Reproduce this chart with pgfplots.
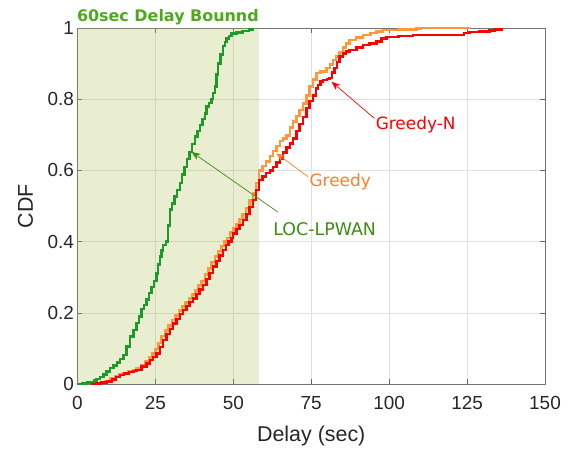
\documentclass[border=0pt]{standalone}
\usepackage{fontspec}
\setmainfont{Liberation Sans}
\newfontfamily\dejavu{DejaVu Sans}
\usepackage{pgfplots}
\pgfplotsset{compat=1.18}
\usetikzlibrary{arrows.meta}
\definecolor{cgreen}{RGB}{28,155,40}
\definecolor{corange}{RGB}{255,152,60}
\definecolor{cred}{RGB}{255,0,0}
\definecolor{tgreen}{RGB}{60,140,20}
\definecolor{ttitle}{RGB}{78,170,28}
\definecolor{torange}{RGB}{255,128,40}
\definecolor{shade}{RGB}{163,186,64}
\definecolor{tickc}{RGB}{38,38,38}
\begin{document}
\begin{tikzpicture}
\begin{axis}[
  scale only axis, width=467.5bp, height=356bp,
  xmin=0, xmax=150, ymin=0, ymax=1,
  xtick={0,25,...,150}, ytick={0,0.2,0.4,0.6,0.8,1},
  yticklabels={0,0.2,0.4,0.6,0.8,1},
  grid=major, major grid style={black!12, line width=0.6pt},
  tick align=inside, major tick length=5bp,
  axis line style={black!55, line width=0.7pt},
  tick style={black!60, line width=0.6pt},
  /pgf/number format/assume math mode=true,
  ticklabel style={font=\fontsize{19}{22}\selectfont, text=tickc},
  xticklabel style={yshift=-9bp},
  xlabel={Delay (sec)}, ylabel={CDF},
  label style={font=\fontsize{21.5}{25}\selectfont, text=tickc},
  xlabel style={at={(axis description cs:0.5,-0.146)}, anchor=center},
  ylabel style={at={(axis description cs:-0.111,0.5)}, anchor=center, rotate=0},
  clip mode=individual,
]
\coordinate (SW) at (rel axis cs:0,0);
\addplot[fill=shade, fill opacity=0.25, draw=none] coordinates {(0,0) (58.3,0) (58.3,1) (0,1)} -- cycle;

\addplot[const plot, color=cgreen, line width=2.5pt] coordinates {
(0,0)(1.5,0.002)(3,0.004)(4.4,0.006)(5.3,0.01)(6.1,0.014)(7.2,0.02)(8.3,0.026)(9.3,0.035)(10.4,0.045)(11.5,0.052)(12.6,0.06)(13.6,0.07)(14.7,0.082)(15.7,0.105)(16.8,0.133)(17.9,0.152)(19,0.172)(19.8,0.19)(20.6,0.21)(21.4,0.222)(22.2,0.237)(23,0.255)(23.8,0.273)(24.6,0.29)(25.4,0.31)(25.9,0.335)(26.4,0.358)(27,0.375)(27.5,0.39)(28.4,0.40)(29,0.445)(29.6,0.49)(30.4,0.507)(31.2,0.526)(32,0.545)(32.9,0.565)(33.6,0.588)(34.4,0.61)(35.2,0.632)(36,0.652)(36.8,0.674)(37.7,0.695)(38.5,0.711)(39.3,0.727)(40.1,0.745)(40.9,0.76)(41.4,0.78)(42.2,0.79)(43,0.80)(43.5,0.818)(44.1,0.835)(44.6,0.87)(45.1,0.90)(45.9,0.925)(46.7,0.95)(47.3,0.96)(47.8,0.97)(48.6,0.978)(49.4,0.985)(51,0.988)(53,0.992)(55,0.996)(56.3,1.0)
};

\addplot[const plot, color=corange, line width=2.5pt] coordinates {
(4.4,0)(6,0.002)(7.5,0.005)(9,0.009)(10.5,0.015)(12,0.021)(13.3,0.027)(14.8,0.031)(16.3,0.035)(17.8,0.04)(19,0.045)(20.4,0.054)(21.8,0.065)(23,0.075)(24,0.085)(25,0.098)(26,0.115)(27,0.135)(28.2,0.15)(29.2,0.165)(30.3,0.18)(31.4,0.193)(32.5,0.206)(33.5,0.218)(34.6,0.229)(35.7,0.24)(36.7,0.251)(37.8,0.263)(38.8,0.276)(39.8,0.29)(40.9,0.307)(42,0.325)(43,0.342)(44.1,0.358)(45.2,0.373)(46.2,0.388)(47.2,0.40)(48,0.41)(49,0.425)(50,0.438)(51,0.45)(52,0.463)(53,0.477)(54,0.495)(55.2,0.515)(56.3,0.535)(57.3,0.565)(58.3,0.60)(59.4,0.613)(60.5,0.625)(61.7,0.64)(62.8,0.655)(63.9,0.668)(65,0.682)(66,0.69)(67,0.698)(68.1,0.72)(69.2,0.737)(70.3,0.753)(71.3,0.77)(72.4,0.788)(73.5,0.81)(74.5,0.835)(75.6,0.855)(76.7,0.873)(78,0.878)(79.9,0.887)(81,0.898)(82,0.91)(83,0.92)(84.1,0.933)(85.2,0.945)(86.2,0.956)(87.3,0.966)(89.4,0.973)(91.6,0.98)(94,0.986)(96,0.99)(98,0.994)(103,0.996)(108.7,0.998)(110,1.0)(125.8,1.0)
};

\addplot[const plot, color=cred, line width=2.5pt] coordinates {
(4.4,0)(6,0.002)(7.5,0.004)(9.4,0.007)(11,0.013)(12.3,0.019)(13.6,0.025)(15,0.029)(16.5,0.033)(18,0.037)(19,0.04)(20.6,0.049)(22.2,0.058)(23.3,0.067)(24.3,0.076)(25.4,0.086)(26.4,0.104)(27.5,0.124)(28.6,0.14)(29.6,0.155)(30.7,0.17)(31.8,0.183)(32.9,0.196)(33.9,0.208)(35,0.219)(36,0.23)(37.1,0.24)(38.2,0.253)(39.2,0.265)(40.3,0.278)(41.4,0.295)(42.4,0.312)(43.5,0.33)(44.6,0.345)(45.6,0.361)(46.7,0.376)(47.6,0.39)(48.5,0.40)(49.4,0.41)(49.9,0.423)(51,0.435)(52,0.447)(53.1,0.46)(54.2,0.478)(55.2,0.497)(56.3,0.517)(57.3,0.545)(58.3,0.573)(59.4,0.583)(60.5,0.592)(61.7,0.60)(62.8,0.61)(63.9,0.622)(64.9,0.634)(66,0.65)(67.1,0.664)(68.1,0.676)(69.2,0.69)(70.3,0.71)(71.3,0.73)(72.4,0.75)(73.4,0.775)(74.5,0.795)(75.6,0.81)(76.6,0.83)(77.2,0.84)(78,0.85)(78.8,0.854)(80,0.857)(80.9,0.859)(81.7,0.875)(82.5,0.887)(83.3,0.905)(84.1,0.92)(85.2,0.928)(86.2,0.934)(87.3,0.938)(89.5,0.945)(91.6,0.952)(93.7,0.957)(95.9,0.962)(97.5,0.97)(99.1,0.975)(103,0.978)(107.6,0.98)(115,0.98)(121.5,0.981)(124,0.986)(125.8,0.989)(129,0.99)(132.2,0.993)(134,0.996)(136,1.0)
};

\draw[tgreen, line width=0.7pt, -{Stealth[length=9bp,width=7bp]}] (axis cs:64.3,0.483) -- (axis cs:36.6,0.652);
\draw[torange, line width=0.7pt, -{Stealth[length=9bp,width=7bp]}] (axis cs:74,0.582) -- (axis cs:63.8,0.648);
\draw[cred, line width=0.7pt, -{Stealth[length=9bp,width=7bp]}] (axis cs:95.3,0.746) -- (axis cs:81.5,0.849);
\node[text=tgreen, font=\dejavu\fontsize{17.5}{20}\selectfont, inner sep=0pt] at (axis cs:79.3,0.436) {LOC-LPWAN};
\node[text=torange, font=\dejavu\fontsize{17}{20}\selectfont, inner sep=0pt] at (axis cs:84.3,0.567) {Greedy};
\node[text=cred, font=\dejavu\fontsize{17}{20}\selectfont, inner sep=0pt] at (axis cs:108.5,0.729) {Greedy-N};
\node[text=ttitle, font=\dejavu\bfseries\fontsize{16}{19}\selectfont, inner sep=0pt, anchor=base] at (axis cs:29,1) [yshift=6bp] {60sec Delay Bounnd};
\end{axis}
\path (SW) ++(-77.5bp,-67bp) rectangle ++(575bp,451bp);
\end{tikzpicture}
\end{document}
